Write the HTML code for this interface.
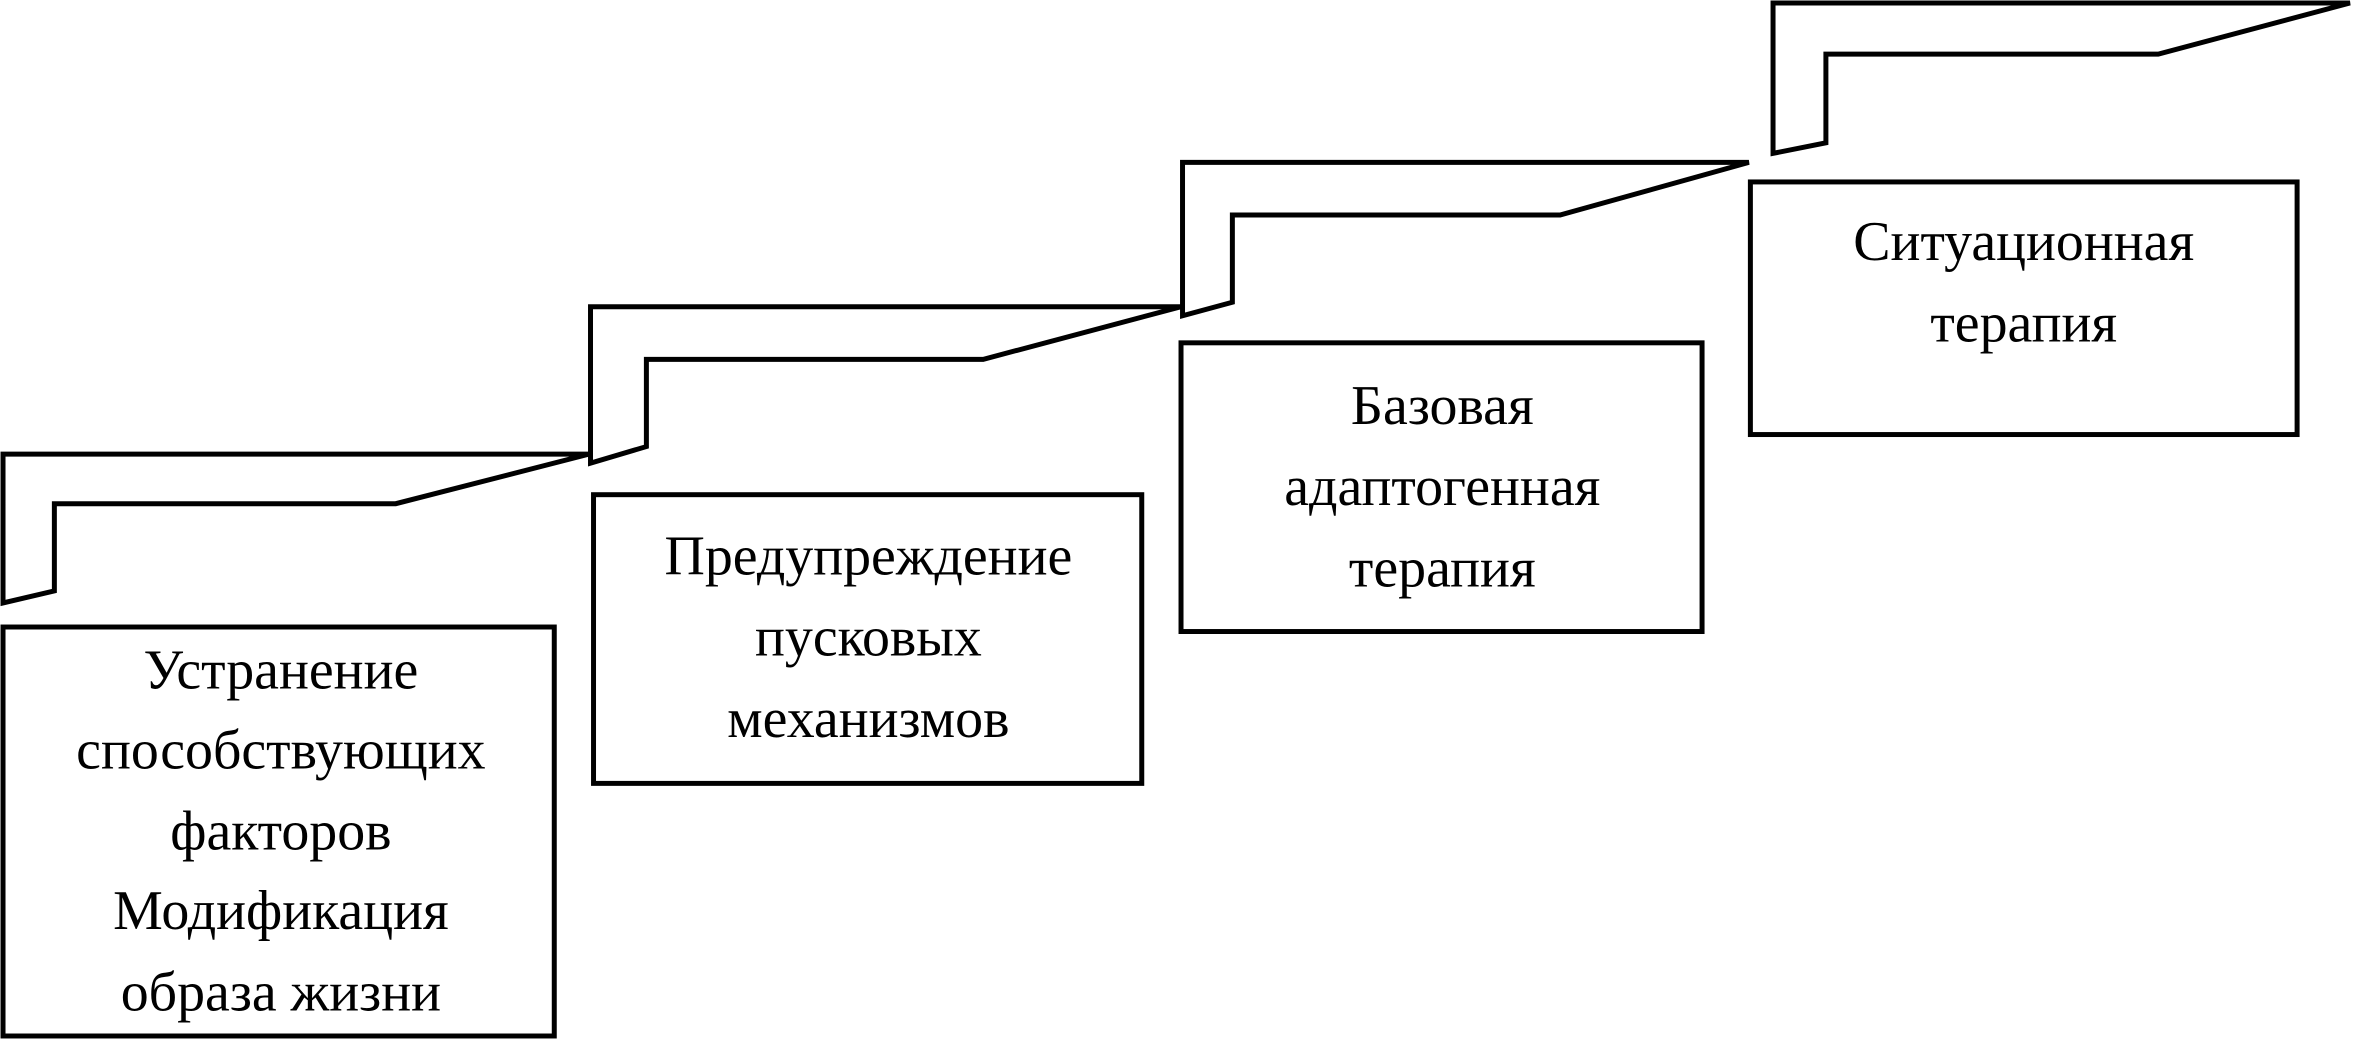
<!DOCTYPE html>
<html><head><meta charset="utf-8"><style>
html,body{margin:0;padding:0;background:#fff;}
svg{display:block;}
text{font-family:"Liberation Serif",serif;font-size:37px;fill:#000;text-anchor:middle;}
</style></head><body>
<svg width="2356" height="1039" viewBox="0 0 1560 691" preserveAspectRatio="none" xmlns="http://www.w3.org/2000/svg">
<g fill="none" stroke="#000" stroke-width="3.3" stroke-linejoin="miter">
<path d="M2,401 L2,302 L390,302 L262,335 L36,335 L36,393 Z"/>
<path d="M391,308 L391,204 L782,204 L651,239 L428,239 L428,297 Z"/>
<path d="M783,210 L783,108 L1158,108 L1033,143 L816,143 L816,201 Z"/>
<path d="M1174,102 L1174,2 L1556,2 L1429,36 L1209,36 L1209,95 Z"/>
<rect x="2" y="417" width="365" height="272"/>
<rect x="393" y="329" width="363" height="192"/>
<rect x="782" y="228" width="345" height="192"/>
<rect x="1159" y="121" width="362" height="168"/>
</g>
<text x="186" y="458">Устранение</text>
<text x="186" y="511">способствующих</text>
<text x="186" y="565">факторов</text>
<text x="186" y="618">Модификация</text>
<text x="186" y="672">образа жизни</text>
<text x="575" y="382">Предупреждение</text>
<text x="575" y="436">пусковых</text>
<text x="575" y="490">механизмов</text>
<text x="955" y="282">Базовая</text>
<text x="955" y="336">адаптогенная</text>
<text x="955" y="390">терапия</text>
<text x="1340" y="173">Ситуационная</text>
<text x="1340" y="227">терапия</text>
</svg>
</body></html>
